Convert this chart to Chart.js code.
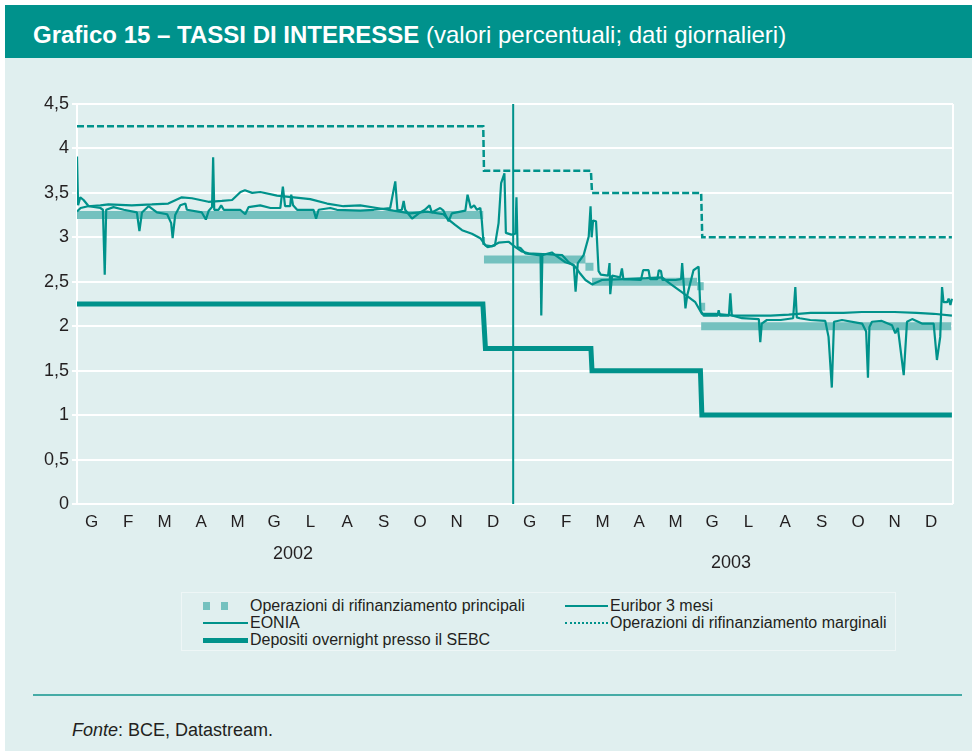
<!DOCTYPE html>
<html lang="it">
<head>
<meta charset="utf-8">
<title>Grafico 15 – Tassi di interesse</title>
<script src="https://cdn.jsdelivr.net/npm/chart.js@4.4.1/dist/chart.umd.min.js"></script>
<style>
  html, body { margin: 0; padding: 0; background: #fff; }
  body { width: 972px; height: 751px; position: relative; overflow: hidden;
         font-family: "Liberation Sans", Arial, Helvetica, sans-serif; color: #231f20; }
  #header { position: absolute; left: 5px; top: 5px; width: 967px; height: 53px; background: #00928c; color: #fff; }
  #header .title { position: absolute; left: 28px; top: 16px; font-size: 24px; line-height: 28px; white-space: nowrap; }
  #panel { position: absolute; left: 5px; top: 58px; width: 967px; height: 693px; background: #e0efef; }
  #chart { position: absolute; left: 0; top: 0; }
  #legendBox { position: absolute; left: 181px; top: 592px; width: 713px; height: 57px;
               border: 1px solid rgba(255,255,255,0.45); }
  .lg { position: absolute; font-size: 16px; line-height: 17px; white-space: nowrap; }
  .sw { position: absolute; }
  #sep { position: absolute; left: 33px; top: 694px; width: 929px; height: 2px; background: #45aba6; }
  #source { position: absolute; left: 72px; top: 719px; font-size: 18px; line-height: 22px; }
</style>
</head>
<body>
<div id="header"><div class="title"><b>Grafico 15 – TASSI DI INTERESSE</b> (valori percentuali; dati giornalieri)</div></div>
<div id="panel"></div>
<canvas id="chart" width="972" height="590"></canvas>

<div id="legendBox"></div>
<!-- left column -->
<div class="sw" style="left:203px;top:602px;width:7px;height:8px;background:#74c1bf"></div>
<div class="sw" style="left:221px;top:602px;width:7px;height:8px;background:#74c1bf"></div>
<div class="lg" style="left:250px;top:597px">Operazioni di rifinanziamento principali</div>
<div class="sw" style="left:203px;top:622px;width:45px;height:0;border-top:2.5px solid #00928b"></div>
<div class="lg" style="left:250px;top:614px">EONIA</div>
<div class="sw" style="left:203px;top:638px;width:45px;height:5px;background:#00928b"></div>
<div class="lg" style="left:250px;top:631px">Depositi overnight presso il SEBC</div>
<!-- right column -->
<div class="sw" style="left:565px;top:605px;width:43px;height:0;border-top:2.5px solid #00928b"></div>
<div class="lg" style="left:610px;top:597px">Euribor 3 mesi</div>
<div class="sw" style="left:565px;top:622px;width:43px;height:0;border-top:2.5px dotted #00928b"></div>
<div class="lg" style="left:610px;top:614px">Operazioni di rifinanziamento marginali</div>

<div id="sep"></div>
<div id="source"><i>Fonte</i>: BCE, Datastream.</div>

<script>
// x values are months from 1 Jan 2002 (0 = start of Jan 2002, 24 = end of Dec 2003)
const monthLabels = ['G','F','M','A','M','G','L','A','S','O','N','D','G','F','M','A','M','G','L','A','S','O','N','D'];
const years = ['2002', '2003'];

// Operazioni di rifinanziamento principali (null = break in the band)
const mroPoints = [
  [0, 3.25], [11.13, 3.25], [11.13, null],
  [11.10, 2.96], [11.18, 2.96], [11.18, null],
  [11.15, 2.75], [13.93, 2.75], [13.93, null],
  [13.93, 2.67], [14.15, 2.67], [14.15, null],
  [14.11, 2.50], [16.99, 2.50], [16.99, null],
  [16.99, 2.45], [17.17, 2.45], [17.17, null],
  [17.08, 2.22], [17.21, 2.22], [17.21, null],
  [17.10, 2.00], [23.95, 2.00]
];

// Depositi overnight presso il SEBC
const depositPoints = [
  [0, 2.25], [11.12, 2.25], [11.19, 1.75], [14.08, 1.75], [14.11, 1.50],
  [17.08, 1.50], [17.12, 1.00], [23.97, 1.00]
];

// Operazioni di rifinanziamento marginali
const marginalPoints = [
  [0, 4.25], [11.13, 4.25], [11.15, 3.75], [14.08, 3.75], [14.11, 3.50],
  [17.10, 3.50], [17.13, 3.00], [23.97, 3.00]
];

// Euribor 3 mesi
const euriborPoints = [
  [0.00, 3.29], [0.10, 3.33], [0.30, 3.35], [0.64, 3.36], [0.86, 3.37], [1.50, 3.36],
  [2.05, 3.37], [2.50, 3.38], [2.87, 3.45], [3.15, 3.44], [3.60, 3.40], [3.97, 3.41],
  [4.25, 3.42], [4.48, 3.51], [4.60, 3.53], [4.80, 3.50], [5.02, 3.51], [5.48, 3.47],
  [5.94, 3.45], [6.39, 3.43], [6.85, 3.38], [7.30, 3.35], [7.76, 3.36], [8.22, 3.33],
  [8.67, 3.30], [9.13, 3.27], [9.59, 3.29], [10.04, 3.26], [10.18, 3.20], [10.36, 3.14],
  [10.55, 3.08], [10.82, 3.04], [11.05, 2.99], [11.19, 2.91], [11.37, 2.90], [11.55, 2.94],
  [11.83, 2.95], [12.01, 2.89], [12.19, 2.84], [12.37, 2.82], [13.29, 2.80], [13.47, 2.72],
  [13.65, 2.67], [13.79, 2.59], [13.93, 2.52], [14.11, 2.47], [14.38, 2.52], [15.00, 2.53],
  [15.60, 2.54], [16.03, 2.55], [16.21, 2.49], [16.58, 2.38], [16.94, 2.27], [17.12, 2.14],
  [17.50, 2.14], [18.00, 2.12], [19.00, 2.12], [19.50, 2.13], [20.10, 2.15], [21.00, 2.15],
  [21.50, 2.16], [22.40, 2.16], [23.00, 2.15], [23.47, 2.14], [23.97, 2.12]
];

// EONIA
const eoniaPoints = [
  [0.00, 3.91], [0.03, 3.36], [0.09, 3.45], [0.18, 3.42], [0.32, 3.35], [0.64, 3.33],
  [0.71, 3.31], [0.76, 2.58], [0.80, 3.31], [1.00, 3.34], [1.28, 3.31], [1.64, 3.28],
  [1.71, 3.07], [1.78, 3.28], [1.96, 3.35], [2.19, 3.28], [2.47, 3.26], [2.58, 3.16],
  [2.62, 2.99], [2.69, 3.25], [2.83, 3.36], [2.97, 3.38], [3.01, 3.31], [3.42, 3.28],
  [3.53, 3.20], [3.61, 3.30], [3.70, 3.34], [3.73, 3.90], [3.76, 3.31], [3.88, 3.31],
  [3.95, 3.36], [4.02, 3.31], [4.47, 3.31], [4.61, 3.26], [4.70, 3.34], [5.02, 3.36],
  [5.30, 3.33], [5.57, 3.33], [5.64, 3.57], [5.70, 3.35], [5.84, 3.35], [5.87, 3.48],
  [5.92, 3.36], [6.03, 3.31], [6.48, 3.31], [6.55, 3.21], [6.62, 3.31], [6.94, 3.33],
  [7.12, 3.31], [7.76, 3.30], [8.13, 3.31], [8.58, 3.33], [8.72, 3.63], [8.78, 3.30],
  [8.90, 3.31], [8.95, 3.41], [8.99, 3.31], [9.18, 3.21], [9.40, 3.28], [9.53, 3.31],
  [9.66, 3.36], [9.72, 3.28], [9.95, 3.33], [10.04, 3.30], [10.18, 3.18], [10.27, 3.27],
  [10.64, 3.30], [10.70, 3.48], [10.79, 3.33], [10.88, 3.36], [10.96, 3.31], [11.05, 3.33],
  [11.09, 3.19], [11.14, 2.93], [11.25, 2.89], [11.45, 2.91], [11.55, 3.16], [11.62, 3.61],
  [11.71, 3.72], [11.75, 3.05], [11.90, 3.03], [12.01, 3.04], [12.04, 3.45], [12.07, 2.89],
  [12.15, 2.88], [12.28, 2.82], [12.65, 2.80], [12.70, 2.80], [12.72, 2.12], [12.75, 2.80],
  [13.01, 2.83], [13.10, 2.80], [13.38, 2.72], [13.61, 2.69], [13.66, 2.39], [13.72, 2.71],
  [13.88, 2.80], [14.02, 3.01], [14.07, 3.35], [14.10, 3.00], [14.14, 3.19], [14.22, 3.18],
  [14.29, 2.62], [14.35, 2.58], [14.55, 2.57], [14.59, 2.71], [14.61, 2.36], [14.66, 2.57],
  [14.88, 2.55], [14.93, 2.65], [14.97, 2.53], [15.45, 2.52], [15.51, 2.63], [15.66, 2.63],
  [15.70, 2.53], [15.90, 2.53], [15.94, 2.63], [16.00, 2.62], [16.04, 2.52], [16.40, 2.52],
  [16.55, 2.53], [16.58, 2.71], [16.67, 2.20], [16.72, 2.35], [16.89, 2.63], [17.03, 2.67],
  [17.08, 2.18], [17.17, 2.12], [17.55, 2.12], [17.58, 2.18], [17.61, 2.12], [17.86, 2.12],
  [17.90, 2.37], [17.94, 2.12], [18.22, 2.09], [18.68, 2.08], [18.72, 1.82], [18.76, 2.03],
  [18.90, 2.07], [19.28, 2.07], [19.62, 2.09], [19.68, 2.44], [19.72, 2.10], [19.80, 2.09],
  [20.09, 2.07], [20.50, 2.06], [20.59, 1.88], [20.68, 1.31], [20.74, 2.05], [20.96, 2.07],
  [21.51, 2.03], [21.62, 1.94], [21.67, 1.42], [21.71, 1.99], [21.78, 2.05], [22.05, 2.06],
  [22.33, 2.01], [22.42, 1.92], [22.49, 1.98], [22.65, 1.45], [22.74, 2.05], [22.88, 2.08],
  [23.15, 2.03], [23.47, 2.03], [23.56, 1.62], [23.65, 1.88], [23.70, 2.44], [23.74, 2.27],
  [23.84, 2.27], [23.88, 2.31], [23.93, 2.24], [23.97, 2.31]
];

// vertical marker line at the turn of the year
const yearMarker = [[11.95, 0], [11.95, 4.5]];

const TEAL = '#00928b';
const MRO_COLOR = '#74c1bf';
const FONT = '"Liberation Sans", Arial, Helvetica, sans-serif';
const TEXT_COLOR = '#231f20';

// Convert [x, y] pairs into point objects
function toXY(points) {
    return points.map(p => ({ x: p[0], y: p[1] }));
}

// Year captions below the month letters
const yearLabels = {
    id: 'yearLabels',
    afterDraw(chart) {
        const { ctx, chartArea, scales: { x } } = chart;
        const offsets = [50, 59];
        ctx.save();
        ctx.font = '18px ' + FONT;
        ctx.fillStyle = TEXT_COLOR;
        ctx.textAlign = 'center';
        ctx.textBaseline = 'middle';
        years.forEach((yr, i) => {
            ctx.fillText(yr, x.getPixelForValue(i * 12 + 6) - 3, chartArea.bottom + offsets[i]);
        });
        ctx.restore();
    }
};

// White frame line on the right side of the plot
const rightFrame = {
    id: 'rightFrame',
    beforeDatasetsDraw(chart) {
        const { ctx, chartArea } = chart;
        ctx.save();
        ctx.strokeStyle = '#ffffff';
        ctx.lineWidth = 2;
        ctx.beginPath();
        ctx.moveTo(chartArea.right, chartArea.top);
        ctx.lineTo(chartArea.right, chartArea.bottom);
        ctx.stroke();
        ctx.restore();
    }
};

const common = { pointRadius: 0, fill: false, tension: 0, spanGaps: false };

const chart = new Chart(document.getElementById('chart').getContext('2d'), {
    type: 'line',
    data: {
        datasets: [
            { ...common, label: 'marker', data: toXY(yearMarker), borderColor: TEAL, borderWidth: 2, order: 0 },
            { ...common, label: 'EONIA', data: toXY(eoniaPoints), borderColor: TEAL, borderWidth: 2.2,
              borderJoinStyle: 'bevel', order: 1 },
            { ...common, label: 'Euribor 3 mesi', data: toXY(euriborPoints), borderColor: TEAL, borderWidth: 2.2,
              borderJoinStyle: 'bevel', order: 2 },
            { ...common, label: 'Operazioni di rifinanziamento marginali', data: toXY(marginalPoints),
              borderColor: TEAL, borderWidth: 2.5, borderDash: [7, 3], order: 3 },
            { ...common, label: 'Depositi overnight presso il SEBC', data: toXY(depositPoints),
              borderColor: TEAL, borderWidth: 5, order: 4 },
            { ...common, label: 'Operazioni di rifinanziamento principali', data: toXY(mroPoints),
              borderColor: MRO_COLOR, borderWidth: 8, borderCapStyle: 'butt', order: 5 }
        ]
    },
    options: {
        responsive: false,
        animation: false,
        devicePixelRatio: 1,
        events: [],
        layout: { padding: { top: 104, right: 19, left: 0, bottom: 0 } },
        plugins: {
            legend: { display: false },
            tooltip: { enabled: false }
        },
        scales: {
            x: {
                type: 'linear',
                min: 0,
                max: 24,
                afterBuildTicks: (scale) => {
                    scale.ticks = monthLabels.map((_, i) => ({ value: i + 0.4 }));
                },
                afterFit: (scale) => { scale.height = 86; },
                ticks: {
                    autoSkip: false,
                    maxRotation: 0,
                    padding: 8,
                    color: TEXT_COLOR,
                    font: { family: FONT, size: 17 },
                    callback: (value, index) => monthLabels[index]
                },
                grid: { display: false, drawTicks: false, tickLength: 0 },
                border: { display: false }
            },
            y: {
                min: 0,
                max: 4.5,
                afterFit: (scale) => { scale.width = 77; },
                ticks: {
                    stepSize: 0.5,
                    padding: 3,
                    color: TEXT_COLOR,
                    font: { family: FONT, size: 18 },
                    callback: (value) => String(value).replace('.', ',')
                },
                grid: { color: '#ffffff', lineWidth: 2, tickLength: 5 },
                border: { color: '#ffffff', width: 2 }
            }
        }
    },
    plugins: [yearLabels, rightFrame]
});
</script>
</body>
</html>
